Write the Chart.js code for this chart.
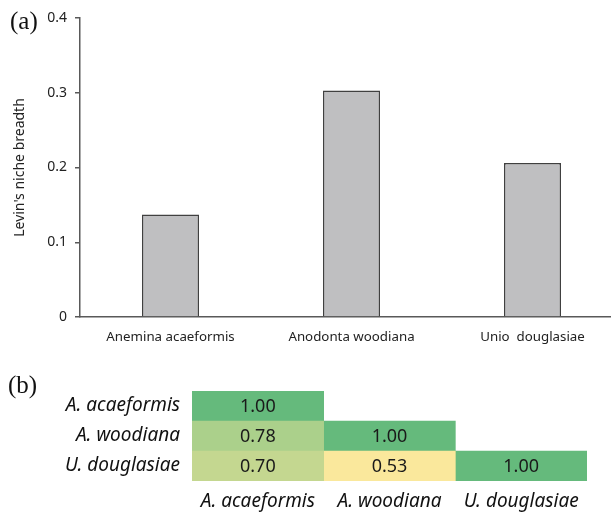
<!DOCTYPE html>
<html>
<head>
<meta charset="utf-8">
<script src="https://cdn.jsdelivr.net/npm/chart.js@4.4.0/dist/chart.umd.min.js"></script>
<style>
html, body { margin: 0; padding: 0; width: 611px; height: 512px; overflow: hidden; background: #fff; }
.panel { position: absolute; font-family: "Liberation Serif", serif; font-size: 25px; color: #111; line-height: 1; }
#wrapA { position: absolute; left: 0; top: 0; width: 623px; height: 350px; }
#wrapB { position: absolute; left: 0; top: 340px; width: 611px; height: 172px; }
</style>
</head>
<body>
<div id="wrapA"><canvas id="barChart"></canvas></div>
<div id="wrapB"><canvas id="heatChart"></canvas></div>
<div class="panel" style="left:10px;top:8px">(a)</div>
<div class="panel" style="left:8px;top:372px">(b)</div>
<script>
// (a) niche breadth per species
const species = ['Anemina acaeformis', 'Anodonta woodiana', 'Unio  douglasiae'];
const nicheBreadth = [0.137, 0.303, 0.206];
const yTicks = [0, 0.1, 0.2, 0.3, 0.4];

// (b) niche overlap matrix, one array per column (lower triangle)
const rowNames = ['A. acaeformis', 'A. woodiana', 'U. douglasiae'];
const colNames = ['A. acaeformis', 'A. woodiana', 'U. douglasiae'];
const colAcaeformis = [1.00, 0.78, 0.70];
const colWoodiana = [null, 1.00, 0.53];
const colDouglasiae = [null, null, 1.00];

const axisColor = '#595959';
const labelFont = '"Noto Sans", "Open Sans", sans-serif';

new Chart(document.getElementById('barChart'), {
    type: 'bar',
    data: {
        labels: species,
        datasets: [{
            data: nicheBreadth,
            backgroundColor: '#bfbfc1',
            borderColor: '#404040',
            borderWidth: 1.5,
            categoryPercentage: 1,
            barPercentage: 0.315
        }]
    },
    options: {
        responsive: true,
        maintainAspectRatio: false,
        animation: false,
        layout: { padding: { top: 18, right: 0, left: 0, bottom: 0 } },
        plugins: { legend: { display: false }, tooltip: { enabled: false } },
        scales: {
            x: {
                grid: { display: false, drawTicks: false },
                border: { display: true, color: axisColor, width: 1.5 },
                ticks: { color: '#222', font: { family: labelFont, size: 13.3 }, padding: 12, maxRotation: 0 },
                afterFit: s => { s.height = 33; }
            },
            y: {
                min: 0,
                max: 0.4,
                afterBuildTicks: s => { s.ticks = yTicks.map(v => ({ value: v })); },
                grid: { drawOnChartArea: false, drawTicks: true, tickLength: 5, color: axisColor, lineWidth: 1.5 },
                border: { display: true, color: axisColor, width: 1.5 },
                ticks: {
                    color: '#222',
                    font: { family: labelFont, size: 14 },
                    padding: 8,
                    callback: v => v === 0 ? '0' : v.toFixed(1)
                },
                title: {
                    display: true,
                    text: "Levin's niche breadth",
                    color: '#222',
                    font: { family: labelFont, size: 14 },
                    padding: { top: 12, bottom: 0 }
                },
                afterFit: s => { s.width = 80; }
            }
        }
    }
});

// colour scale from yellow (lowest) to green (1.00)
function cellColor(v) {
    if (v == null) return 'rgba(0,0,0,0)';
    const lo = [250, 232, 156], hi = [101, 186, 124];
    const t = (v - 0.53) / (1 - 0.53);
    const c = lo.map((a, k) => Math.round(a + (hi[k] - a) * t));
    return `rgb(${c[0]},${c[1]},${c[2]})`;
}

const columns = [colAcaeformis, colWoodiana, colDouglasiae];

const cellText = {
    id: 'cellText',
    afterDatasetsDraw(chart) {
        const ctx = chart.ctx;
        ctx.save();
        ctx.font = '18px ' + labelFont;
        ctx.fillStyle = '#1a1a1a';
        ctx.textAlign = 'center';
        ctx.textBaseline = 'middle';
        chart.data.datasets.forEach((ds, j) => {
            chart.getDatasetMeta(j).data.forEach((el, i) => {
                const v = ds.values[i];
                if (v == null) return;
                const p = el.getCenterPoint();
                ctx.fillText(v.toFixed(2), p.x, p.y + 1);
            });
        });
        ctx.restore();
    }
};

new Chart(document.getElementById('heatChart'), {
    type: 'bar',
    data: {
        labels: rowNames,
        datasets: columns.map((col, j) => ({
            values: col,
            data: col.map(v => v == null ? null : [j, j + 1]),
            backgroundColor: col.map(cellColor),
            borderWidth: 0,
            borderSkipped: false,
            grouped: false,
            categoryPercentage: 1,
            barPercentage: 1
        }))
    },
    options: {
        indexAxis: 'y',
        responsive: true,
        maintainAspectRatio: false,
        animation: false,
        layout: { padding: { top: 51, right: 24, left: 0, bottom: 0 } },
        plugins: { legend: { display: false }, tooltip: { enabled: false } },
        scales: {
            x: {
                type: 'linear',
                min: 0,
                max: 3,
                afterBuildTicks: s => { s.ticks = colNames.map((_, k) => ({ value: k + 0.5 })); },
                grid: { display: false, drawTicks: false },
                border: { display: false },
                ticks: {
                    color: '#111',
                    font: { family: labelFont, size: 19, style: 'italic' },
                    padding: 9,
                    maxRotation: 0,
                    autoSkip: false,
                    callback: (v, i) => colNames[i]
                },
                afterFit: s => { s.height = 31; }
            },
            y: {
                grid: { display: false, drawTicks: false },
                border: { display: false },
                ticks: {
                    color: '#111',
                    font: { family: labelFont, size: 19, style: 'italic' },
                    padding: 12
                },
                afterFit: s => { s.width = 192; }
            }
        }
    },
    plugins: [cellText]
});
</script>
</body>
</html>
